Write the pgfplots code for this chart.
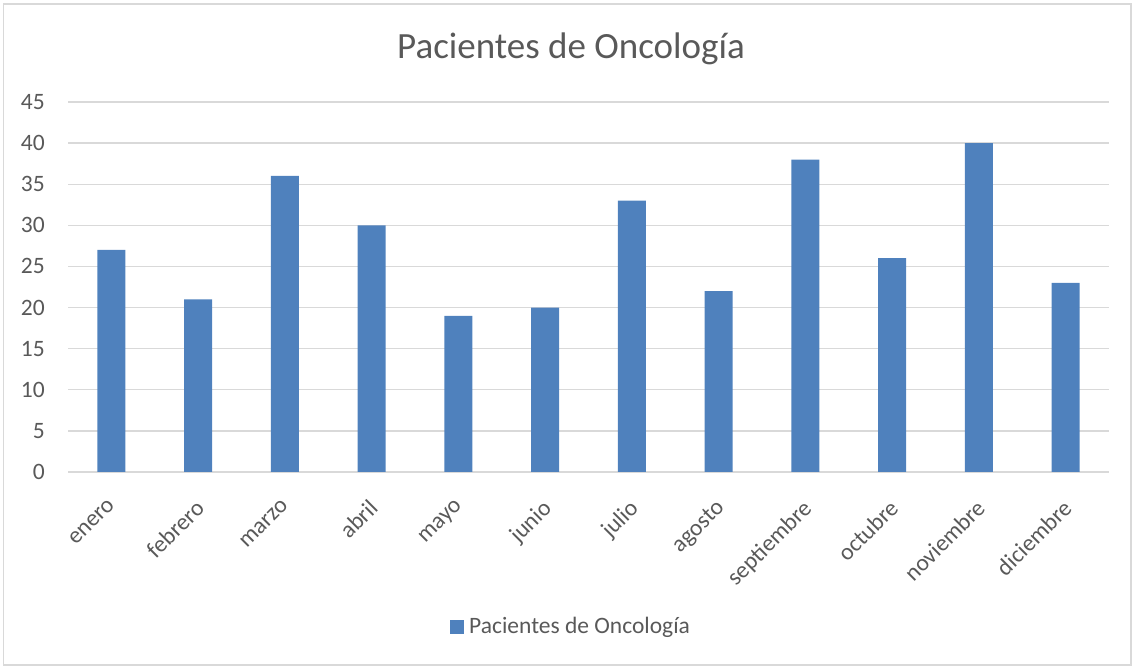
\documentclass[border=0pt]{standalone}
\usepackage{fontspec}
\setmainfont{Carlito}
\usepackage{pgfplots}
\pgfplotsset{compat=1.18}
\definecolor{barblue}{HTML}{4F81BD}
\definecolor{gridgray}{HTML}{D9D9D9}
\definecolor{txtgray}{HTML}{595959}
\begin{document}
\begin{tikzpicture}[x=1pt,y=1pt]
\useasboundingbox (0,0) rectangle (1132,666);
\draw[gridgray,line width=1.5pt] (3.5,1) rectangle (1131,662);
\begin{axis}[
  at={(68pt,194pt)}, anchor=south west,
  scale only axis, width=1041pt, height=370pt,
  xmin=-0.5, xmax=11.5, ymin=0, ymax=45,
  ytick={0,5,...,45},
  xtick={0,...,11},
  xticklabels={enero,febrero,marzo,abril,mayo,junio,julio,agosto,septiembre,octubre,noviembre,diciembre},
  x tick label style={xshift=-4pt, yshift=-26pt, rotate=45, anchor=north east, font=\fontsize{23.5}{26}\selectfont, text=txtgray, inner sep=0pt},
  y tick label style={font=\fontsize{23.5}{26}\selectfont, text=txtgray, anchor=east, inner sep=0pt, xshift=-23pt},
  /pgf/number format/assume math mode=true,
  major tick length=0pt,
  ymajorgrids, grid style={gridgray, line width=1.3pt},
  axis lines*=left,
  axis line style={draw=none},
  ybar, bar width=28pt,
  clip=false,
]
\addplot[fill=barblue, draw=none] coordinates {
 (0,27) (1,21) (2,36) (3,30) (4,19) (5,20) (6,33) (7,22) (8,38) (9,26) (10,40) (11,23)
};
\end{axis}
\node[text=txtgray, font=\fontsize{37}{44}\selectfont] at (571,617) {Pacientes de Oncología};
\fill[barblue] (450,32) rectangle (464,46);
\node[text=txtgray, font=\fontsize{23.5}{26}\selectfont, anchor=west, inner sep=0pt] at (469,39) {Pacientes de Oncología};
\end{tikzpicture}
\end{document}
